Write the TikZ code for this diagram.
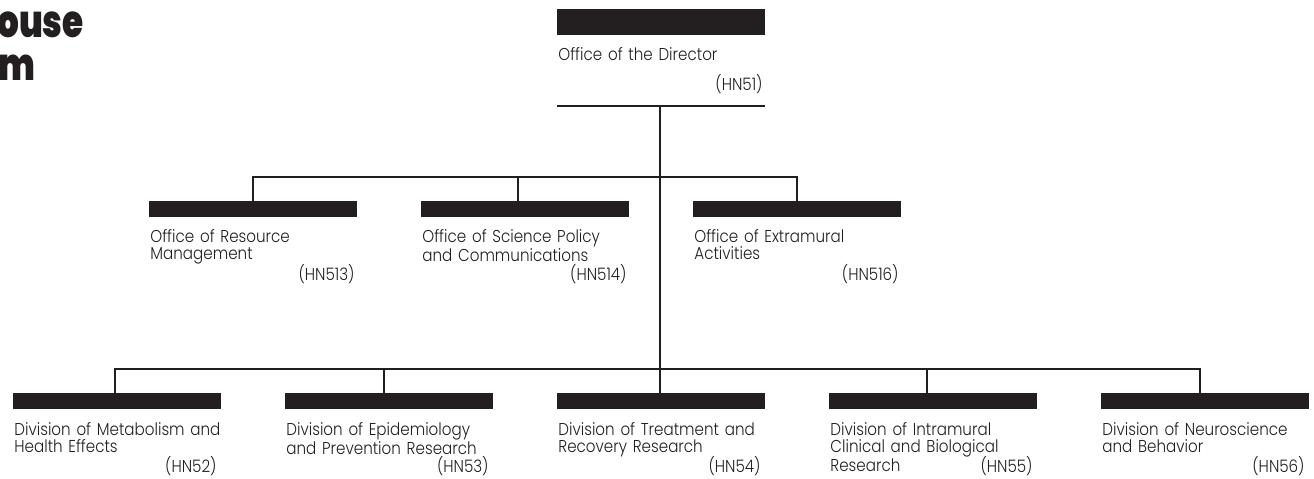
\documentclass[tikz,border=0pt]{standalone}
\usepackage{fontspec}
\setmainfont{Poppins}[UprightFont=* Light, BoldFont=* Black, FakeStretch=0.88]
\newfontfamily\headfont{Poppins}[UprightFont=* Black, FakeStretch=0.76]
\usepackage{xcolor}
\usepackage{tikz}
\definecolor{inkblack}{HTML}{231F20}
\begin{document}
\begin{tikzpicture}[x=0.5pt, y=-0.5pt,
  bar/.style={fill=inkblack, minimum width=104pt, minimum height=8pt, inner sep=0pt, outer sep=0pt},
  topbar/.style={bar, minimum height=13pt},
  unitname/.style={font=\fontsize{8.6}{8.6}\selectfont, text=inkblack, text width=104pt, align=left, anchor=base west, inner sep=0pt},
  unitcode/.style={font=\fontsize{8.6}{8.6}\selectfont, text=inkblack, anchor=base east, inner sep=0pt},
  heading/.style={font=\headfont\fontsize{22.5}{22.5}\selectfont, text=inkblack, anchor=base west, inner sep=0pt},
  link/.style={draw=inkblack, line width=0.6pt}]
  \useasboundingbox (0,0) rectangle (1314,478);
  \node[heading] (headA) at (-3,37) {ouse};
  \node[heading] (headB) at (-2,80) {m};
  \node[topbar] (dir) at (661,22) {};
  \node[bar] (orm) at (253,209) {};
  \node[bar] (osp) at (525,209) {};
  \node[bar] (oea) at (797,209) {};
  \node[bar] (dmh) at (117,401) {};
  \node[bar] (dep) at (389,401) {};
  \node[bar] (dtr) at (661,401) {};
  \node[bar] (dic) at (933,401) {};
  \node[bar] (dnb) at (1205,401) {};
  \node[unitname] (dirname) at ([xshift=0.5pt, yshift=-12.5pt]dir.south west) {Office of the Director};
  \node[unitcode] (dircode) at ([xshift=-1pt, yshift=-27.5pt]dir.south east) {(HN51)};
  \node[unitname] (ormname) at ([xshift=0.5pt, yshift=-12.5pt]orm.south west) {Office of Resource\\Management};
  \node[unitcode] (ormcode) at ([xshift=-1pt, yshift=-31.5pt]orm.south east) {(HN513)};
  \node[unitname] (ospname) at ([xshift=0.5pt, yshift=-12.5pt]osp.south west) {Office of Science Policy\\and Communications};
  \node[unitcode] (ospcode) at ([xshift=-1pt, yshift=-31.5pt]osp.south east) {(HN514)};
  \node[unitname] (oeaname) at ([xshift=0.5pt, yshift=-12.5pt]oea.south west) {Office of Extramural\\Activities};
  \node[unitcode] (oeacode) at ([xshift=-1pt, yshift=-31.5pt]oea.south east) {(HN516)};
  \node[unitname] (dmhname) at ([xshift=0.5pt, yshift=-13pt]dmh.south west) {Division of Metabolism and\\Health Effects};
  \node[unitcode] (dmhcode) at ([xshift=-2pt, yshift=-31.5pt]dmh.south east) {(HN52)};
  \node[unitname] (depname) at ([xshift=0.5pt, yshift=-13pt]dep.south west) {Division of Epidemiology\\and Prevention Research};
  \node[unitcode] (depcode) at ([xshift=-2pt, yshift=-31.5pt]dep.south east) {(HN53)};
  \node[unitname] (dtrname) at ([xshift=0.5pt, yshift=-13pt]dtr.south west) {Division of Treatment and\\Recovery Research};
  \node[unitcode] (dtrcode) at ([xshift=-2pt, yshift=-31.5pt]dtr.south east) {(HN54)};
  \node[unitname] (dicname) at ([xshift=0.5pt, yshift=-13pt]dic.south west) {Division of Intramural\\Clinical and Biological\\Research};
  \node[unitcode] (diccode) at ([xshift=-2pt, yshift=-31.5pt]dic.south east) {(HN55)};
  \node[unitname] (dnbname) at ([xshift=0.5pt, yshift=-13pt]dnb.south west) {Division of Neuroscience\\and Behavior};
  \node[unitcode] (dnbcode) at ([xshift=-2pt, yshift=-31.5pt]dnb.south east) {(HN56)};
  \coordinate (dirfoot) at (660,106);
  \coordinate (midhub) at (660,177);
  \coordinate (lowhub) at (660,369);
  \draw[link] (dir.west |- dirfoot) -- (dir.east |- dirfoot);
  \draw[link] (dirfoot) -- (dirfoot |- dtr.north);
  \draw[link] (orm.north) |- (midhub) -| (oea.north);
  \draw[link] (midhub) -| ([xshift=-3.5pt]osp.north);
  \draw[link] ([xshift=-1pt]dmh.north) |- (lowhub) -| ([xshift=-2.5pt]dnb.north);
  \draw[link] (lowhub) -| ([xshift=-2.5pt]dep.north);
  \draw[link] (lowhub) -| ([xshift=-3pt]dic.north);
\end{tikzpicture}
\end{document}
